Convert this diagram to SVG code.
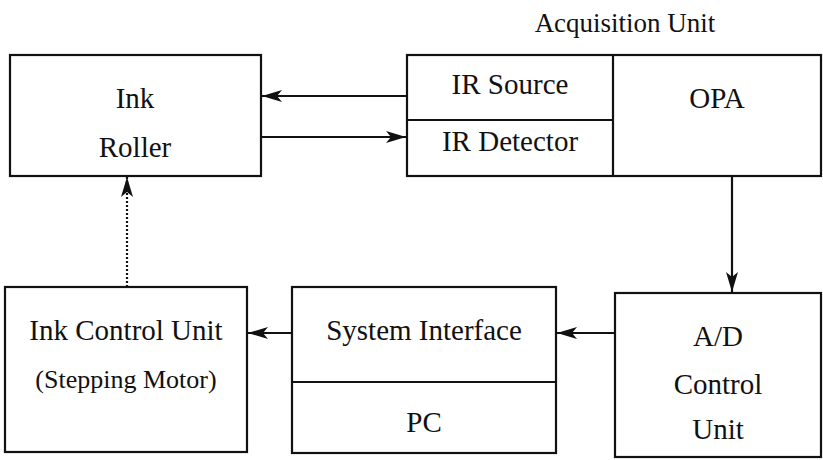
<svg xmlns="http://www.w3.org/2000/svg" width="823" height="460" viewBox="0 0 823 460">
<defs>
<marker id="ah" viewBox="0 0 20 12" refX="20" refY="6" markerWidth="20" markerHeight="12" markerUnits="userSpaceOnUse" orient="auto">
<path d="M0,0 L20,6 L0,12 L5,6 Z" fill="#111"/>
</marker>
</defs>
<style>
.box{fill:#fff;stroke:#111;stroke-width:2.2}
.div{stroke:#111;stroke-width:2.2;fill:none}
.t{font-family:"Liberation Serif","Times New Roman",serif;font-size:29px;fill:#111;text-anchor:middle}
.s{font-size:26px}
.h{font-size:27px}
.c{stroke:#111;stroke-width:2.2;fill:none;marker-end:url(#ah)}
.d{stroke-dasharray:2 2}
</style>
<text class="t h" x="625" y="32">Acquisition Unit</text>
<g id="ink-roller">
<rect class="box" x="10" y="55" width="251" height="121"/>
<text class="t" x="135" y="108">Ink</text>
<text class="t" x="135" y="157">Roller</text>
</g>
<g id="acquisition-unit">
<rect class="box" x="407" y="55" width="414" height="121"/>
<line class="div" x1="613" y1="55" x2="613" y2="176"/>
<line class="div" x1="407" y1="120" x2="613" y2="120"/>
<text class="t" x="510" y="94">IR Source</text>
<text class="t" x="510" y="151">IR Detector</text>
<text class="t" x="717" y="108">OPA</text>
</g>
<g id="ad-control-unit">
<rect class="box" x="615" y="293" width="206" height="164"/>
<text class="t" x="718" y="346">A/D</text>
<text class="t" x="718" y="394">Control</text>
<text class="t" x="718" y="439">Unit</text>
</g>
<g id="system-interface">
<rect class="box" x="292" y="287" width="264" height="166"/>
<line class="div" x1="292" y1="382" x2="556" y2="382"/>
<text class="t" x="424" y="340">System Interface</text>
<text class="t" x="424" y="432">PC</text>
</g>
<g id="ink-control-unit">
<rect class="box" x="5" y="287" width="242" height="165"/>
<text class="t" x="126" y="340">Ink Control Unit</text>
<text class="t s" x="126" y="388">(Stepping Motor)</text>
</g>
<g id="connectors">
<line class="c" x1="407" y1="96" x2="262" y2="96"/>
<line class="c" x1="261" y1="137" x2="406" y2="137"/>
<line class="c" x1="732" y1="176" x2="732" y2="292"/>
<line class="c" x1="615" y1="333" x2="557" y2="333"/>
<line class="c" x1="292" y1="333" x2="248" y2="333"/>
<line class="c d" x1="127" y1="287" x2="127" y2="177"/>
</g>
</svg>
